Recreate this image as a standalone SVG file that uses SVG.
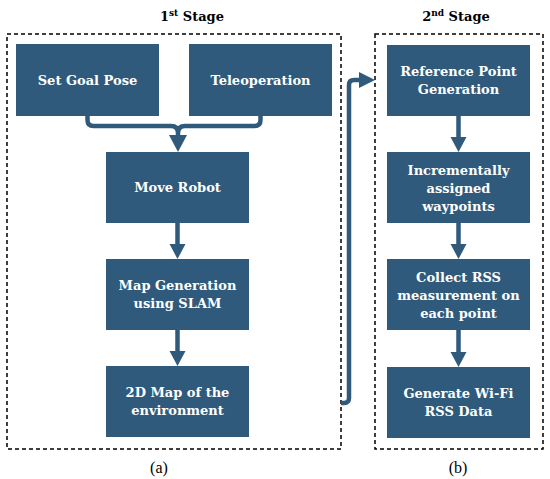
<svg xmlns="http://www.w3.org/2000/svg" width="550" height="479" viewBox="0 0 550 479">
<style>
.box{fill:#2f5a7b}
.t{font-family:"DejaVu Serif","Liberation Serif",serif;font-weight:bold;font-size:13px;fill:#ffffff;text-anchor:middle}
.ttl{font-family:"DejaVu Serif","Liberation Serif",serif;font-weight:bold;font-size:13px;fill:#000;text-anchor:middle}
.lbl{font-family:"Liberation Serif",serif;font-size:16px;fill:#000;text-anchor:middle}
.dash{fill:none;stroke:#000;stroke-width:1.5;stroke-dasharray:4 3}
.ln{fill:none;stroke:#2f5a7b;stroke-width:4.5}
.ah{fill:#2f5a7b}
</style>
<rect width="550" height="479" fill="#fff"/>
<g id="titles">
<text class="ttl" x="192" y="21">1<tspan font-size="9" dy="-5">st</tspan><tspan dy="5"> Stage</tspan></text>
<text class="ttl" x="456" y="21">2<tspan font-size="9" dy="-5">nd</tspan><tspan dy="5"> Stage</tspan></text>
</g>
<g id="stage1">
<rect class="dash" x="7" y="34" width="334" height="415"/>
</g>
<g id="stage2">
<rect class="dash" x="375" y="34" width="168" height="415"/>
</g>
<g id="connectors">
<path class="ln" d="M87.5 115 V120 Q87.5 126 93.5 126 H171 Q178 126 178 133 M260.5 115 V120 Q260.5 126 254.5 126 H185 Q178 126 178 133 V136"/>
<polygon class="ah" points="169,135 187,135 178,152"/>
<path class="ln" d="M177.5 223 V246"/>
<polygon class="ah" points="169.5,244 185.5,244 177.5,259"/>
<path class="ln" d="M177.5 330 V353"/>
<polygon class="ah" points="169.5,351 185.5,351 177.5,366"/>
<path class="ln" d="M458.5 116 V139"/>
<polygon class="ah" points="450.5,137 466.5,137 458.5,152"/>
<path class="ln" d="M458.5 223 V246"/>
<polygon class="ah" points="450.5,244 466.5,244 458.5,259"/>
<path class="ln" d="M458.5 330 V354"/>
<polygon class="ah" points="450.5,352 466.5,352 458.5,367"/>
<path class="ln" d="M341 403 H344 Q349 403 349 398 V85 Q349 80 354 80 H361"/>
<polygon class="ah" points="359,72 359,88 375,80"/>
</g>
<g id="n1"><rect class="box" x="16" y="44" width="143" height="72"/><text class="t" x="87.5" y="85">Set Goal Pose</text></g>
<g id="n2"><rect class="box" x="189" y="44" width="143" height="72"/><text class="t" x="260.5" y="85">Teleoperation</text></g>
<g id="n3"><rect class="box" x="106" y="152" width="143" height="71"/><text class="t" x="177.5" y="192">Move Robot</text></g>
<g id="n4"><rect class="box" x="106" y="259" width="143" height="71"/><text class="t" x="177.5" y="290">Map Generation</text><text class="t" x="177.5" y="308">using SLAM</text></g>
<g id="n5"><rect class="box" x="106" y="366" width="143" height="71"/><text class="t" x="177.5" y="397">2D Map of the</text><text class="t" x="177.5" y="415">environment</text></g>
<g id="n6"><rect class="box" x="387" y="45" width="143" height="71"/><text class="t" x="458.5" y="76">Reference Point</text><text class="t" x="458.5" y="94">Generation</text></g>
<g id="n7"><rect class="box" x="387" y="152" width="143" height="71"/><text class="t" x="458.5" y="175">Incrementally</text><text class="t" x="458.5" y="193">assigned</text><text class="t" x="458.5" y="211">waypoints</text></g>
<g id="n8"><rect class="box" x="387" y="259" width="143" height="71"/><text class="t" x="458.5" y="282">Collect RSS</text><text class="t" x="458.5" y="300">measurement on</text><text class="t" x="458.5" y="318">each point</text></g>
<g id="n9"><rect class="box" x="387" y="367" width="143" height="71"/><text class="t" x="458.5" y="398">Generate Wi-Fi</text><text class="t" x="458.5" y="416">RSS Data</text></g>
<g id="labels">
<text class="lbl" x="159" y="473">(a)</text>
<text class="lbl" x="458" y="473">(b)</text>
</g>
</svg>
